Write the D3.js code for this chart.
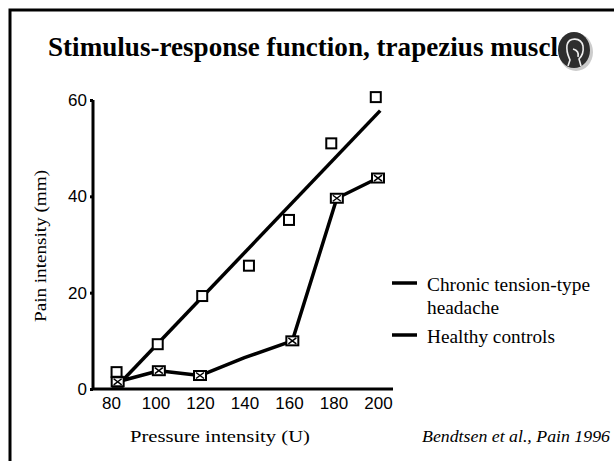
<!DOCTYPE html>
<html><head><meta charset="utf-8">
<script src="https://cdn.jsdelivr.net/npm/d3@7"></script>
<style>body{margin:0;background:#fff}svg{display:block}</style>
</head><body>
<svg id="c" width="614" height="461"></svg>
<script>
// ---- data ----
const xTicks = [80, 100, 120, 140, 160, 180, 200];
const yTicks = [0, 20, 40, 60];
const cttX = [82.5, 83, 101, 121, 142, 160, 179, 199];
const cttY = [3.5, 1.5, 9.3, 19.3, 25.6, 35.1, 51, 60.6];
const trendX = [84, 201];
const trendY = [1.2, 57.8];
const healthyX = [83, 101.5, 120, 140, 161.5, 181.5, 200];
const healthyY = [1.5, 3.8, 2.8, 6.5, 10, 39.6, 43.8];
const healthyMarker = [1, 1, 1, 0, 1, 1, 1];
const legendLabels = [["Chronic tension-type", "headache"], ["Healthy controls"]];
const legendWidths = [[163, 72], [128]];
const title = "Stimulus-response function, trapezius muscle";
const xTitle = "Pressure intensity (U)";
const yTitle = "Pain intensity (mm)";
const citation = "Bendtsen et al., Pain 1996";

const svg = d3.select("#c");
// slide frame
svg.append("rect").attr("x", 10).attr("y", 10).attr("width", 640).attr("height", 480)
  .attr("fill", "none").attr("stroke", "#000").attr("stroke-width", 3);

svg.append("text").attr("x", 48).attr("y", 56)
  .attr("font-family", "Liberation Serif").attr("font-weight", "bold").attr("font-size", 28)
  .attr("textLength", 522).attr("lengthAdjust", "spacingAndGlyphs")
  .text(title);

// logo
const logo = svg.append("g").attr("transform", "translate(575,51)");
logo.append("ellipse").attr("rx", 17).attr("ry", 19).attr("cx", 1).attr("cy", 1).attr("fill", "#ccc");
logo.append("ellipse").attr("rx", 16).attr("ry", 18).attr("cx", -1).attr("cy", -1).attr("fill", "#2e2e2e");
logo.append("path").attr("d", "M-8,-6 C-6,-14 6,-14 8,-5 C9,2 6,6 4,8 L6,15 M-8,-6 C-9,2 -6,6 -5,9 L-7,15 M-2,-2 C2,-1 4,2 3,6")
  .attr("fill", "none").attr("stroke", "#eee").attr("stroke-width", 1.6);

const x = d3.scaleLinear().domain([80, 200]).range([111, 378]);
const y = d3.scaleLinear().domain([0, 60]).range([389, 100]);

// y axis
const ya = svg.append("g").attr("transform", "translate(93,0)")
  .call(d3.axisLeft(y).tickValues(yTicks).tickSize(3).tickPadding(3));
ya.select(".domain").attr("stroke-width", 3).attr("d", `M0,${y(60)}V${y(0)}`);
ya.selectAll(".tick line").attr("stroke-width", 3);
ya.selectAll("text").attr("font-family", "Liberation Sans").attr("font-size", 17).attr("fill", "#000");

// x axis
const xa = svg.append("g").attr("transform", `translate(0,${y(0)})`)
  .call(d3.axisBottom(x).tickValues(xTicks).tickSize(0).tickPadding(8));
xa.select(".domain").attr("stroke-width", 3).attr("d", `M${93},0H${393}`);
xa.selectAll("text").attr("font-family", "Liberation Sans").attr("font-size", 17).attr("fill", "#000");

// trend line
svg.append("line").attr("x1", x(trendX[0])).attr("y1", y(trendY[0]))
  .attr("x2", x(trendX[1])).attr("y2", y(trendY[1]))
  .attr("stroke", "#000").attr("stroke-width", 3.5);

// healthy line
const hd = healthyX.map((v, i) => ({x: v, y: healthyY[i], m: healthyMarker[i]}));
svg.append("path").datum(hd)
  .attr("d", d3.line().x(d => x(d.x)).y(d => y(d.y)))
  .attr("fill", "none").attr("stroke", "#000").attr("stroke-width", 3.5).attr("stroke-linejoin", "round");

// ctt open squares
svg.selectAll(".ctt").data(cttX.map((v, i) => ({x: v, y: cttY[i]}))).join("rect")
  .attr("x", d => x(d.x) - 5).attr("y", d => y(d.y) - 5).attr("width", 10).attr("height", 10)
  .attr("fill", "#fff").attr("stroke", "#000").attr("stroke-width", 2);

// healthy crossed squares
const hm = svg.selectAll(".hm").data(hd.filter(d => d.m)).join("g")
  .attr("transform", d => `translate(${x(d.x)},${y(d.y)})`);
hm.append("rect").attr("x", -6).attr("y", -4.5).attr("width", 12).attr("height", 9)
  .attr("fill", "#fff").attr("stroke", "#000").attr("stroke-width", 2);
hm.append("path").attr("d", "M-4,-3L4,3M-4,3L4,-3").attr("stroke", "#000").attr("stroke-width", 1.5);

// legend
const lg = svg.append("g");
const rows = [283, 335];
legendLabels.forEach((lab, i) => {
  lg.append("line").attr("x1", 392).attr("x2", 417).attr("y1", rows[i]).attr("y2", rows[i])
    .attr("stroke", "#000").attr("stroke-width", 3.5);
  lab.forEach((t, j) => {
    lg.append("text").attr("x", 427).attr("y", rows[i] + 8 + j * 23)
      .attr("font-family", "Liberation Serif").attr("font-size", 18)
      .attr("textLength", legendWidths[i][j]).attr("lengthAdjust", "spacingAndGlyphs").text(t);
  });
});

// axis titles
svg.append("text").attr("x", 220).attr("y", 442).attr("text-anchor", "middle")
  .attr("font-family", "Liberation Serif").attr("font-size", 17)
  .attr("textLength", 180).attr("lengthAdjust", "spacingAndGlyphs").text(xTitle);
svg.append("text").attr("transform", "translate(46,246) rotate(-90)").attr("text-anchor", "middle")
  .attr("font-family", "Liberation Serif").attr("font-size", 17)
  .attr("textLength", 152).attr("lengthAdjust", "spacingAndGlyphs").text(yTitle);
svg.append("text").attr("x", 422).attr("y", 442)
  .attr("font-family", "Liberation Serif").attr("font-style", "italic").attr("font-size", 17)
  .attr("textLength", 188).attr("lengthAdjust", "spacingAndGlyphs").text(citation);
</script>
</body></html>
